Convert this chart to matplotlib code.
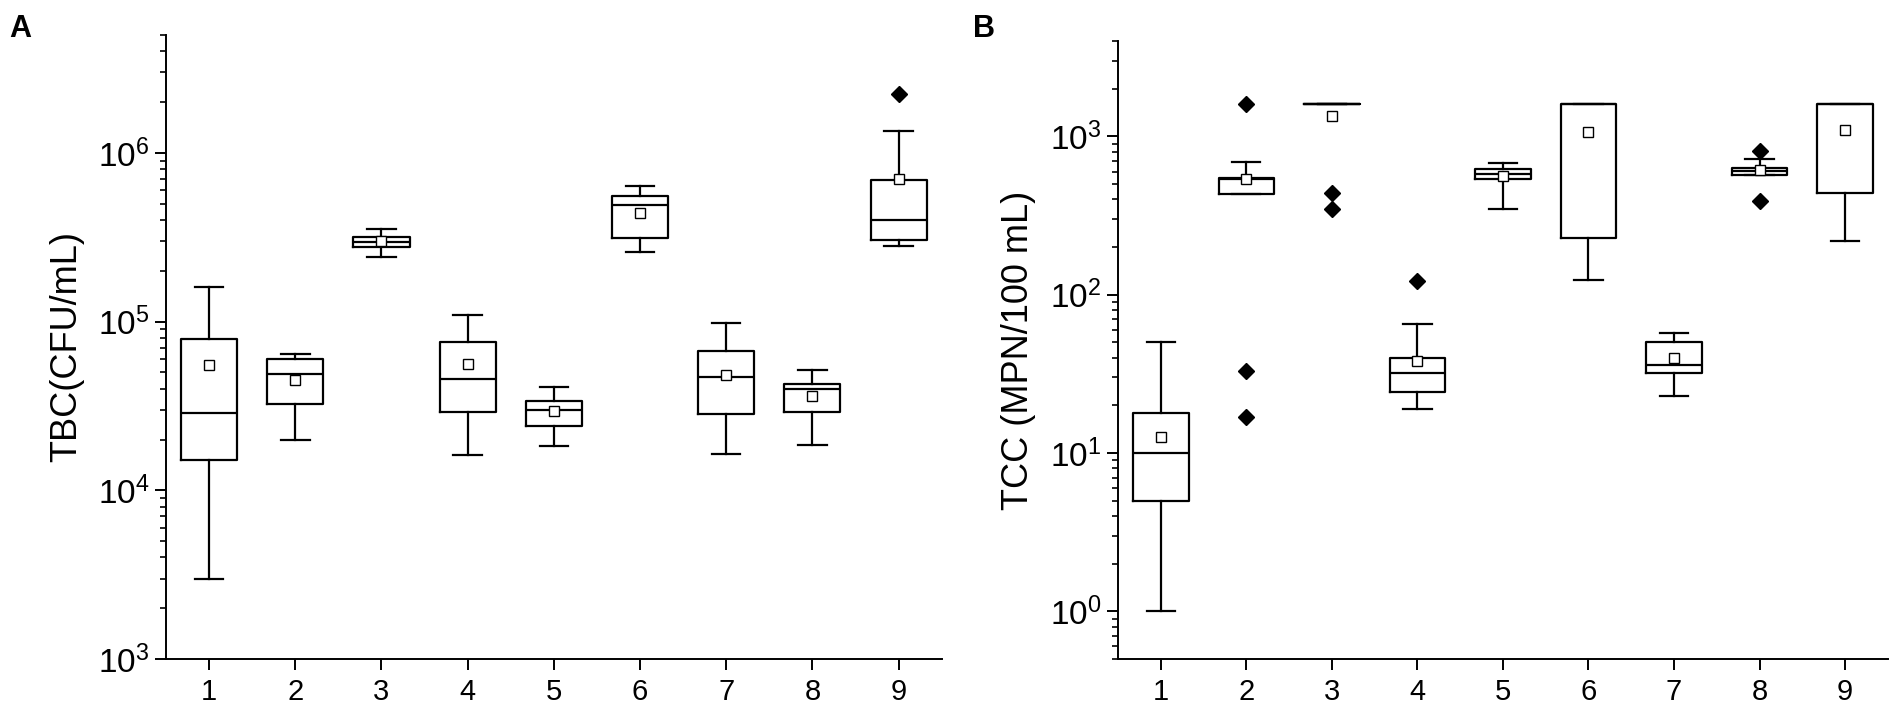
import numpy as np
import matplotlib
matplotlib.use('Agg')
import matplotlib.pyplot as plt
from matplotlib.ticker import LogLocator, NullFormatter, FixedLocator

plt.rcParams['font.family'] = ['Liberation Sans', 'DejaVu Sans']
plt.rcParams['mathtext.fontset'] = 'custom'
plt.rcParams['mathtext.rm'] = 'Liberation Sans'

groups = [1, 2, 3, 4, 5, 6, 7, 8, 9]

# panel A: TBC (CFU/mL)
tbc_lo = [3.0e3, 2.0e4, 2.43e5, 1.62e4, 1.82e4, 2.57e5, 1.65e4, 1.85e4, 2.8e5]
tbc_q1 = [1.52e4, 3.25e4, 2.75e5, 2.92e4, 2.39e4, 3.15e5, 2.84e4, 2.9e4, 3.05e5]
tbc_med = [2.88e4, 4.9e4, 2.98e5, 4.56e4, 3.0e4, 4.9e5, 4.67e4, 4.0e4, 4.0e5]
tbc_q3 = [7.9e4, 6.0e4, 3.18e5, 7.6e4, 3.37e4, 5.57e5, 6.66e4, 4.26e4, 6.9e5]
tbc_hi = [1.6e5, 6.4e4, 3.54e5, 1.1e5, 4.1e4, 6.35e5, 9.8e4, 5.15e4, 1.35e6]
tbc_mean = [5.5e4, 4.5e4, 3.0e5, 5.6e4, 2.95e4, 4.4e5, 4.8e4, 3.6e4, 7.0e5]
tbc_out = [[], [], [], [], [], [], [], [], [2.24e6]]

# panel B: TCC (MPN/100 mL)
tcc_lo = [1.0, 435, 1600, 19, 348, 123, 22.8, 574, 217]
tcc_q1 = [5.0, 435, 1600, 24.4, 536, 227, 31.8, 574, 438]
tcc_med = [10, 535, 1600, 32, 580, 1600, 35.8, 605, 1600]
tcc_q3 = [18, 545, 1600, 40, 620, 1600, 50, 636, 1600]
tcc_hi = [50, 685, 1600, 65, 680, 1600, 57, 716, 1600]
tcc_mean = [12.7, 540, 1350, 38, 565, 1065, 40, 613, 1090]
tcc_out = [[], [1600, 33, 17], [440, 350], [122], [], [], [], [810, 393], []]


def make_stats(lo, q1, med, q3, hi, mean, out):
    stats = []
    for i in range(len(lo)):
        stats.append({'whislo': lo[i], 'q1': q1[i], 'med': med[i], 'q3': q3[i],
                      'whishi': hi[i], 'mean': mean[i], 'fliers': out[i]})
    return stats


def draw_panel(ax, stats, ylim, ylabel):
    lw = 1.6
    ax.bxp(stats, positions=groups, widths=0.65, capwidths=0.33,
           showmeans=True, patch_artist=False,
           boxprops=dict(color='black', linewidth=lw),
           medianprops=dict(color='black', linewidth=lw),
           whiskerprops=dict(color='black', linewidth=lw),
           capprops=dict(color='black', linewidth=lw),
           meanprops=dict(marker='s', markerfacecolor='white', markeredgecolor='black',
                          markersize=7.5, markeredgewidth=1.0),
           flierprops=dict(marker='D', markerfacecolor='black', markeredgecolor='black',
                           markersize=8))
    ax.set_yscale('log')
    ax.set_ylim(*ylim)
    ax.set_xlim(0.5, 9.5)
    ax.xaxis.set_major_locator(FixedLocator(groups))
    ax.set_xticklabels([str(g) for g in groups])
    ax.yaxis.set_major_locator(LogLocator(base=10))
    ax.yaxis.set_minor_locator(LogLocator(base=10, subs=np.arange(2, 10)))
    ax.yaxis.set_minor_formatter(NullFormatter())
    for side in ['top', 'right']:
        ax.spines[side].set_visible(False)
    for side in ['left', 'bottom']:
        ax.spines[side].set_linewidth(1.4)
    ax.tick_params(axis='x', which='major', direction='out', length=8, width=1.4,
                   labelsize=21, pad=6)
    ax.tick_params(axis='y', which='major', direction='out', length=8, width=1.4,
                   labelsize=24, pad=4)
    ax.tick_params(axis='y', which='minor', direction='out', length=4, width=1.2)
    ax.set_ylabel(ylabel, fontsize=26, labelpad=10)


fig = plt.figure(figsize=(19.04, 7.21), dpi=100)
ax_a = fig.add_axes([0.0872, 0.086, 0.4074, 0.8655])
ax_b = fig.add_axes([0.5872, 0.086, 0.4043, 0.857])

draw_panel(ax_a, make_stats(tbc_lo, tbc_q1, tbc_med, tbc_q3, tbc_hi, tbc_mean, tbc_out),
           (1e3, 5e6), 'TBC(CFU/mL)')
draw_panel(ax_b, make_stats(tcc_lo, tcc_q1, tcc_med, tcc_q3, tcc_hi, tcc_mean, tcc_out),
           (0.5, 4000), 'TCC (MPN/100 mL)')

fig.text(9 / 1904, 1 - 37 / 721, 'A', fontsize=22, fontweight='bold')
fig.text(973 / 1904, 1 - 37 / 721, 'B', fontsize=22, fontweight='bold')

fig.savefig('out.png', dpi=100)
